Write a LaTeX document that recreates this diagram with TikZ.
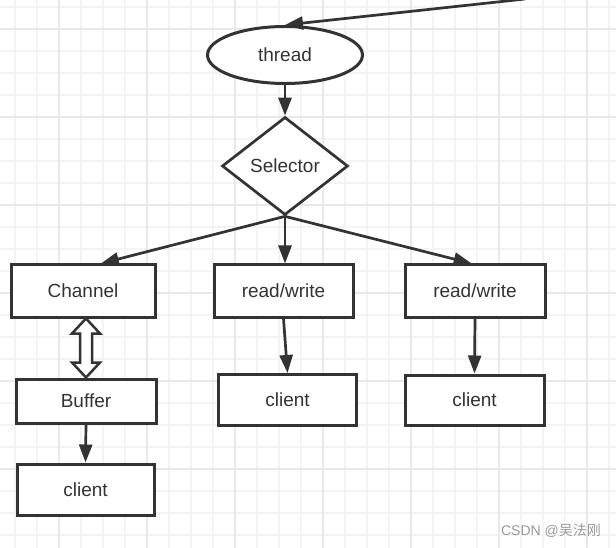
\documentclass[tikz,border=0pt]{standalone}
\usepackage{fontspec}
\setmainfont{Liberation Sans}
\newfontfamily\cjk{Noto Sans CJK SC}
\usetikzlibrary{shapes.geometric,arrows.meta,calc}
\definecolor{ink}{HTML}{333333}
\definecolor{gridminor}{HTML}{F4F4F4}
\definecolor{gridmajor}{HTML}{E9E9E9}
\definecolor{wm}{HTML}{999999}
\tikzset{
  lbl/.style={font=\fontsize{19}{22}\selectfont, text=ink},
  box/.style={lbl, draw=ink, line width=3pt, fill=white, rectangle, inner sep=0pt},
  ell/.style={lbl, draw=ink, line width=3pt, fill=white, ellipse, inner sep=0pt},
  dia/.style={lbl, draw=ink, line width=2.7pt, fill=white, diamond, inner sep=0pt},
  arr/.style={draw=ink, line width=2.7pt, -{Triangle[length=18pt,width=13pt]}},
}
\begin{document}
\begin{tikzpicture}[x=1pt,y=-1pt]
\fill[white] (0,0) rectangle (616,548);
\useasboundingbox (0,0) rectangle (616,548);
\begin{scope}
\clip (0,0) rectangle (616,548);
\foreach \k in {0,...,27} \draw[gridminor, line width=1.5pt] ({15+22*\k},0) -- ({15+22*\k},548);
\foreach \k in {0,...,24} \draw[gridminor, line width=1.5pt] (0,{7+22*\k}) -- (616,{7+22*\k});
\foreach \k in {0,...,6} \draw[gridmajor, line width=2pt] ({59+88*\k},0) -- ({59+88*\k},548);
\foreach \k in {0,...,5} \draw[gridmajor, line width=2pt] (0,{29+88*\k}) -- (616,{29+88*\k});
\end{scope}

\node[ell, minimum width=155pt, minimum height=57pt] (thread) at (285,55) {thread};
\node[dia, minimum width=126pt, minimum height=98pt] (sel) at (285,166) {Selector};

\node[box, minimum width=144pt, minimum height=52pt] (channel) at (83,291) {Channel};
\node[box, minimum width=139pt, minimum height=52pt] (rw1) at (283.5,291) {read/write};
\node[box, minimum width=140pt, minimum height=52pt] (rw2) at (475,291) {read/write};
\node[box, minimum width=140pt, minimum height=44pt] (buffer) at (86,401) {Buffer};
\node[box, minimum width=137pt, minimum height=51pt] (clientL) at (85.5,489.5) {client};
\node[box, minimum width=138pt, minimum height=51pt] (clientM) at (287.5,400) {client};
\node[box, minimum width=139pt, minimum height=50pt] (clientR) at (474.5,400) {client};

\coordinate (tstart) at (525,-1);
\begin{scope}
\clip (0,0) rectangle (616,548);
\draw[arr] (tstart) -- (thread.north);
\end{scope}
\draw[arr] (thread.south) -- (sel.north);
\draw[arr] (sel.south) -- (channel.57);
\draw[arr] (sel.south) -- (sel.south |- rw1.north);
\draw[arr] (sel.south) -- (rw2.97);
\draw[arr] (rw1.south) -- (clientM.north);
\draw[arr] (rw2.south) -- (clientR.north);
\draw[arr] (buffer.south) -- (clientL.north);

\coordinate (da) at (channel.south -| buffer.north);
\coordinate (db) at (buffer.north);
\draw[ink, line width=2.5pt, fill=white, line join=miter]
  (da) -- ($(da)+(14,15)$) -- ($(da)+(6,15)$) -- ($(db)+(6,-15)$) -- ($(db)+(14,-15)$)
  -- (db) -- ($(db)+(-14,-15)$) -- ($(db)+(-6,-15)$) -- ($(da)+(-6,15)$) -- ($(da)+(-14,15)$) -- cycle;

\node[text=wm, font=\fontsize{14}{16}\selectfont] (wmark) at (551,531) {CSDN @{\cjk 吴法刚}};
\end{tikzpicture}
\end{document}
